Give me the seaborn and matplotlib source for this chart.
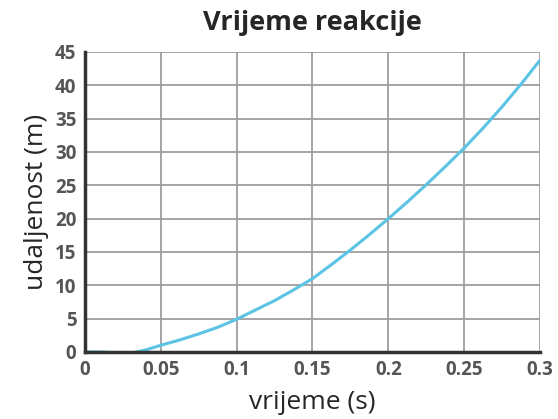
import pandas as pd
import matplotlib.pyplot as plt
import seaborn as sns

# values
vrijeme = [0.0, 0.01, 0.02, 0.03, 0.04, 0.05, 0.0625, 0.075, 0.0875, 0.1,
           0.1125, 0.125, 0.1375, 0.15, 0.1625, 0.175, 0.1875, 0.2,
           0.2125, 0.225, 0.2375, 0.25, 0.2625, 0.275, 0.2875, 0.3]
udaljenost = [0.0, 0.0, -0.1, -0.2, 0.3, 1.0, 1.8, 2.7, 3.7, 4.9,
              6.3, 7.7, 9.3, 11.0, 13.1, 15.3, 17.6, 20.0,
              22.5, 25.1, 27.8, 30.6, 33.6, 36.8, 40.2, 43.8]
x_ticks = [0, 0.05, 0.1, 0.15, 0.2, 0.25, 0.3]
x_tick_labels = ['0', '0.05', '0.1', '0.15', '0.2', '0.25', '0.3']
y_ticks = [0, 5, 10, 15, 20, 25, 30, 35, 40, 45]

data = pd.DataFrame({'vrijeme': vrijeme, 'udaljenost': udaljenost})

sns.set_style('white')
plt.rcParams['font.family'] = ['Open Sans', 'DejaVu Sans']

fig = plt.figure(figsize=(5.58, 4.19), dpi=100)
ax = fig.add_axes([0.152, 0.160, 0.816, 0.716])

sns.lineplot(ax=ax, data=data, x='vrijeme', y='udaljenost', color='#5bc3e3', linewidth=2.2)

ax.set_xlim(0, 0.3)
ax.set_ylim(0, 45)
ax.set_xticks(x_ticks)
ax.set_xticklabels(x_tick_labels)
ax.set_yticks(y_ticks)
ax.grid(True, color='#9e9e9e', linewidth=1.3)
ax.set_axisbelow(True)

for s in ['top', 'right']:
    ax.spines[s].set_visible(False)
for s in ['left', 'bottom']:
    ax.spines[s].set_color('#333333')
    ax.spines[s].set_linewidth(2.5)

ax.tick_params(length=0, pad=6, labelsize=13.5, labelcolor='#555555')
for lab in ax.get_xticklabels() + ax.get_yticklabels():
    lab.set_fontweight('bold')

ax.set_xlabel('vrijeme (s)', fontsize=19, labelpad=7)
ax.set_ylabel('udaljenost (m)', fontsize=19, labelpad=4)
ax.set_title('Vrijeme reakcije', fontsize=19.5, fontweight='bold', pad=16)

fig.savefig('out.png', dpi=100)
